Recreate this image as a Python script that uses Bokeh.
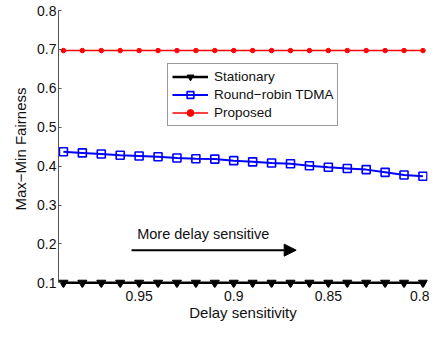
from bokeh.plotting import figure
from bokeh.models import Range1d, FixedTicker, Legend, LegendItem, Arrow, NormalHead, Label
from bokeh.embed import file_html
from bokeh.resources import INLINE

# ---- data ----
delay = [0.99, 0.98, 0.97, 0.96, 0.95, 0.94, 0.93, 0.92, 0.91, 0.90,
         0.89, 0.88, 0.87, 0.86, 0.85, 0.84, 0.83, 0.82, 0.81, 0.80]
stationary = [0.1] * 20
round_robin = [0.437, 0.434, 0.431, 0.428, 0.426, 0.424, 0.421, 0.419, 0.418, 0.414,
               0.411, 0.408, 0.406, 0.401, 0.397, 0.394, 0.391, 0.384, 0.377, 0.374]
proposed = [0.697] * 20

x_ticks = [0.95, 0.9, 0.85, 0.8]
x_tick_labels = ["0.95", "0.9", "0.85", "0.8"]
y_ticks = [0.1, 0.2, 0.3, 0.4, 0.5, 0.6, 0.7, 0.8]
y_tick_labels = ["0.1", "0.2", "0.3", "0.4", "0.5", "0.6", "0.7", "0.8"]

note_text = "More delay sensitive"
note_pos = (0.951, 0.226)
arrow_x = (0.954, 0.867)
arrow_y = 0.184

FONT = "Liberation Sans"

p = figure(width=429, height=323, output_backend="svg", toolbar_location=None,
           x_range=Range1d(0.9926, 0.7976), y_range=Range1d(0.088, 0.8),
           min_border_left=58, min_border_right=2, min_border_top=10)
p.outline_line_color = None
p.xgrid.visible = False
p.ygrid.visible = False
p.background_fill_color = "white"

# x axis
xa = p.xaxis[0]
xa.ticker = FixedTicker(ticks=x_ticks)
xa.major_label_overrides = {t: l for t, l in zip(x_ticks, x_tick_labels)}
xa.axis_line_color = None
xa.major_tick_line_color = None
xa.minor_tick_line_color = None
xa.major_tick_in = 0
xa.major_tick_out = 0
xa.minor_tick_in = 0
xa.minor_tick_out = 0
xa.major_label_standoff = 3
xa.major_label_text_font = FONT
xa.major_label_text_font_size = "14px"
xa.major_label_text_color = "#111111"
xa.axis_label = "Delay sensitivity"
xa.axis_label_text_font = FONT
xa.axis_label_text_font_size = "15px"
xa.axis_label_text_font_style = "normal"
xa.axis_label_standoff = 0
xa.axis_label_text_color = "#111111"

# y axis
ya = p.yaxis[0]
ya.ticker = FixedTicker(ticks=y_ticks)
ya.major_label_overrides = {t: l for t, l in zip(y_ticks, y_tick_labels)}
ya.bounds = (0.1, 0.8)
ya.axis_line_color = "#555555"
ya.major_tick_line_color = "#555555"
ya.major_tick_in = 3
ya.major_tick_out = 0
ya.minor_tick_line_color = None
ya.minor_tick_in = 0
ya.minor_tick_out = 0
ya.major_label_standoff = 2
ya.major_label_text_font = FONT
ya.major_label_text_font_size = "14px"
ya.major_label_text_color = "#111111"
ya.axis_label = "Max\u2212Min Fairness"
ya.axis_label_text_font = FONT
ya.axis_label_text_font_size = "15px"
ya.axis_label_text_font_style = "normal"
ya.axis_label_standoff = 5
ya.axis_label_text_color = "#111111"

# series
l1 = p.line(delay, stationary, line_color="black", line_width=2.5)
s1 = p.scatter(delay, stationary, marker="inverted_triangle", size=9,
               fill_color="black", line_color="black")
l2 = p.line(delay, round_robin, line_color="#0000ff", line_width=2)
s2 = p.scatter(delay, round_robin, marker="square", size=8,
               fill_color=None, line_color="#0000ff", line_width=1.6)
l3 = p.line(delay, proposed, line_color="#ff0000", line_width=1.5)
s3 = p.scatter(delay, proposed, marker="circle", size=4.5,
               fill_color="#ff0000", line_color="#ff0000")

legend = Legend(items=[
    LegendItem(label="Stationary", renderers=[l1, s1]),
    LegendItem(label="Round\u2212robin TDMA", renderers=[l2, s2]),
    LegendItem(label="Proposed", renderers=[l3, s3]),
], location=(109, 161))
legend.padding = 4
legend.margin = 0
legend.spacing = 1
legend.label_height = 17
legend.glyph_height = 17
legend.glyph_width = 36
legend.label_standoff = 6
legend.label_text_font = FONT
legend.label_text_font_size = "13.5px"
legend.label_text_color = "#111111"
legend.border_line_color = "#333333"
legend.border_line_width = 1
legend.background_fill_color = "white"
legend.background_fill_alpha = 1
p.add_layout(legend)

# annotation
p.add_layout(Arrow(end=NormalHead(size=12, fill_color="black", line_color="black"),
                   x_start=arrow_x[0], y_start=arrow_y, x_end=arrow_x[1], y_end=arrow_y,
                   line_width=2, line_color="black"))
p.add_layout(Label(x=note_pos[0], y=note_pos[1], text=note_text,
                   text_baseline="middle", text_font=FONT, text_font_size="14.5px",
                   text_color="#111111"))

open("out.html", "w").write(file_html(p, INLINE))
